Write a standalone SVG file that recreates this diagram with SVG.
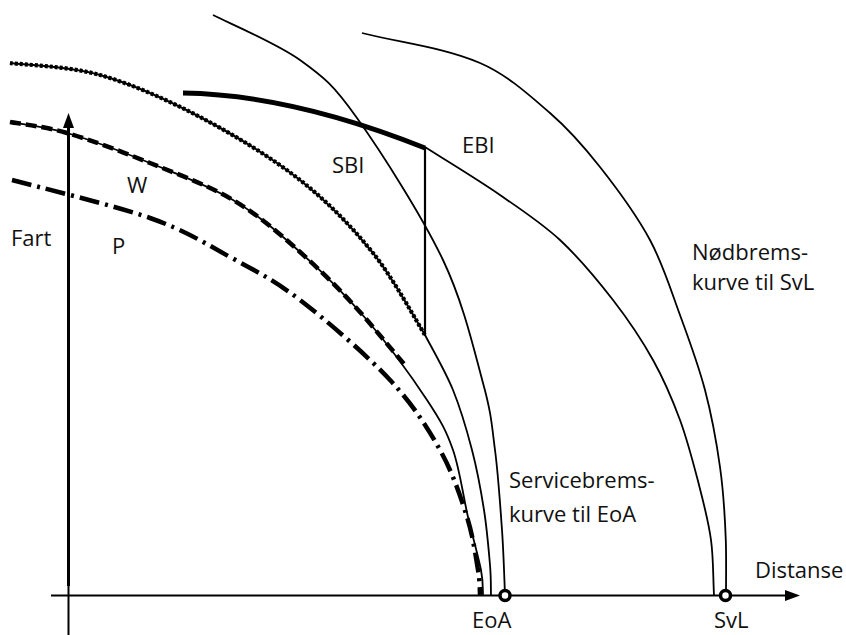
<svg xmlns="http://www.w3.org/2000/svg" width="846" height="635" viewBox="0 0 846 635">
<style>
.t{font-family:"Open Sans","Noto Sans","Liberation Sans",sans-serif;font-size:22px;fill:#111}
.thin{fill:none;stroke:#000;stroke-width:1.8}
.ax{fill:none;stroke:#000}
</style>
<rect width="846" height="635" fill="#fff"/>
<g id="axes">
<line class="ax" x1="68.5" y1="125" x2="68.5" y2="586" stroke-width="3"/>
<line class="ax" x1="68.5" y1="586" x2="68.5" y2="635" stroke-width="2"/>
<polygon points="68.5,113 63,128 74,128" fill="#000"/>
<line class="ax" x1="51" y1="595.5" x2="788" y2="595.5" stroke-width="2"/>
<polygon points="800,595.5 785,590 785,601" fill="#000"/>
</g>
<g id="curves">
<path id="P-curve" d="M12,180 C35,186.3 113.7,205.2 150,218 C186.3,230.8 205,243.3 230,257 C255,270.7 273.3,279.5 300,300 C326.7,320.5 366.7,355 390,380 C413.3,405 427.2,427.2 440,450 C452.8,472.8 460.7,497 467,517 C473.3,537 475.8,557 478,570 C480.2,583 479.7,590.8 480,595" fill="none" stroke="#000" stroke-width="4.5" stroke-dasharray="20 6 3 6"/>
<path id="W-curve" class="thin" d="M10,122 C19.5,123.8 43.7,126.2 67,133 C90.3,139.8 122.3,151.8 150,163 C177.7,174.2 208,185.2 233,200 C258,214.8 277.7,232 300,252 C322.3,272 345.8,295.3 367,320 C388.2,344.7 412.7,378.3 427,400 C441.3,421.7 446.2,430.5 453,450 C459.8,469.5 463.3,497 468,517 C472.7,537 478.5,557 481,570 C483.5,583 482.7,590.8 483,595" stroke-width="1.6"/>
<path id="W-dashes" d="M10,122 C19.5,123.8 43.7,126.2 67,133 C90.3,139.8 122.3,151.8 150,163 C177.7,174.2 208,185.2 233,200 C258,214.8 277.7,232 300,252 C322.3,272 345.8,295.3 367,320 L404,364" fill="none" stroke="#000" stroke-width="4.5" stroke-dasharray="11 5"/>
<path id="dotted-curve" d="M10,63 C25,65 68.3,66 100,75 C131.7,84 166.7,99.5 200,117 C233.3,134.5 271.2,157.3 300,180 C328.8,202.7 352.2,227.2 373,253 C393.8,278.8 416.3,321.3 425,335" fill="none" stroke="#000" stroke-width="2"/>
<path id="dotted-beads" d="M10,63 C25,65 68.3,66 100,75 C131.7,84 166.7,99.5 200,117 C233.3,134.5 271.2,157.3 300,180 C328.8,202.7 352.2,227.2 373,253 C393.8,278.8 416.3,321.3 425,335" fill="none" stroke="#000" stroke-width="4.2" stroke-dasharray="3 2"/>
<path id="dotted-continuation" class="thin" d="M425,335 C429.7,344.2 445.2,370.8 453,390 C460.8,409.2 466.8,430 472,450 C477.2,470 481,490.8 484,510 C487,529.2 488.8,550.8 490,565 C491.2,579.2 490.8,590 491,595" stroke-width="1.6"/>
<path id="SBI-line" d="M183,93 C250,94 330,110 425,148" fill="none" stroke="#000" stroke-width="5"/>
<line id="SBI-drop" x1="425" y1="147" x2="425" y2="336" stroke="#000" stroke-width="2.2"/>
<path id="EBI-curve" class="thin" d="M425,147 C450,163 475.5,178.2 500,195 C520.6,209.2 541.7,223 560,240 C579.5,258.2 596.6,278.9 613,300 C627.7,319 641.3,339 653,360 C663.7,379.1 672.4,399.5 680,420 C687.8,441.2 693.3,463.1 699,485 C703.7,503.2 708.5,521.4 711,540 C713.5,558.2 713,576.6 714,595" stroke-width="1.5"/>
<path id="EoA-curve" class="thin" d="M213,15 C227.5,22.5 276,42.8 300,60 C324,77.2 333.2,84.7 357,118 C380.8,151.3 422,215.8 443,260 C464,304.2 474.3,351.3 483,383 C491.7,414.7 491.8,425.5 495,450 C498.2,474.5 500.3,505.8 502,530 C503.7,554.2 504.5,584.2 505,595"/>
<path id="SvL-curve" class="thin" d="M362,33 C401.3,43 442.6,47.1 480,63 C506.4,74.3 528.3,94.2 550,113 C568.5,129 584.8,147.7 600,167 C618.3,190.2 636,214 650,240 C662.8,263.7 670.7,289.7 680,315 C689.1,339.8 698.3,364.5 705,390 C711.6,415.2 716.4,441.2 720,467 C723.4,491.2 724.9,515.6 725.8,540 C726.4,558.3 726,576.7 726,595"/>
</g>
<g id="markers">
<circle id="EoA-mark" cx="505" cy="595.5" r="5" fill="#fff" stroke="#000" stroke-width="3.5"/>
<circle id="SvL-mark" cx="725.5" cy="595.5" r="5" fill="#fff" stroke="#000" stroke-width="3.5"/>
</g>
<g id="labels">
<text class="t" x="11" y="246">Fart</text>
<text class="t" x="127" y="193">W</text>
<text class="t" x="112" y="254">P</text>
<text class="t" x="332" y="173">SBI</text>
<text class="t" x="462" y="153">EBI</text>
<text class="t" x="692" y="260">Nødbrems-</text>
<text class="t" x="692" y="290">kurve til SvL</text>
<text class="t" x="509" y="488">Servicebrems-</text>
<text class="t" x="509" y="522">kurve til EoA</text>
<text class="t" x="755" y="578">Distanse</text>
<text class="t" x="472" y="628">EoA</text>
<text class="t" x="714" y="628">SvL</text>
</g>
</svg>
